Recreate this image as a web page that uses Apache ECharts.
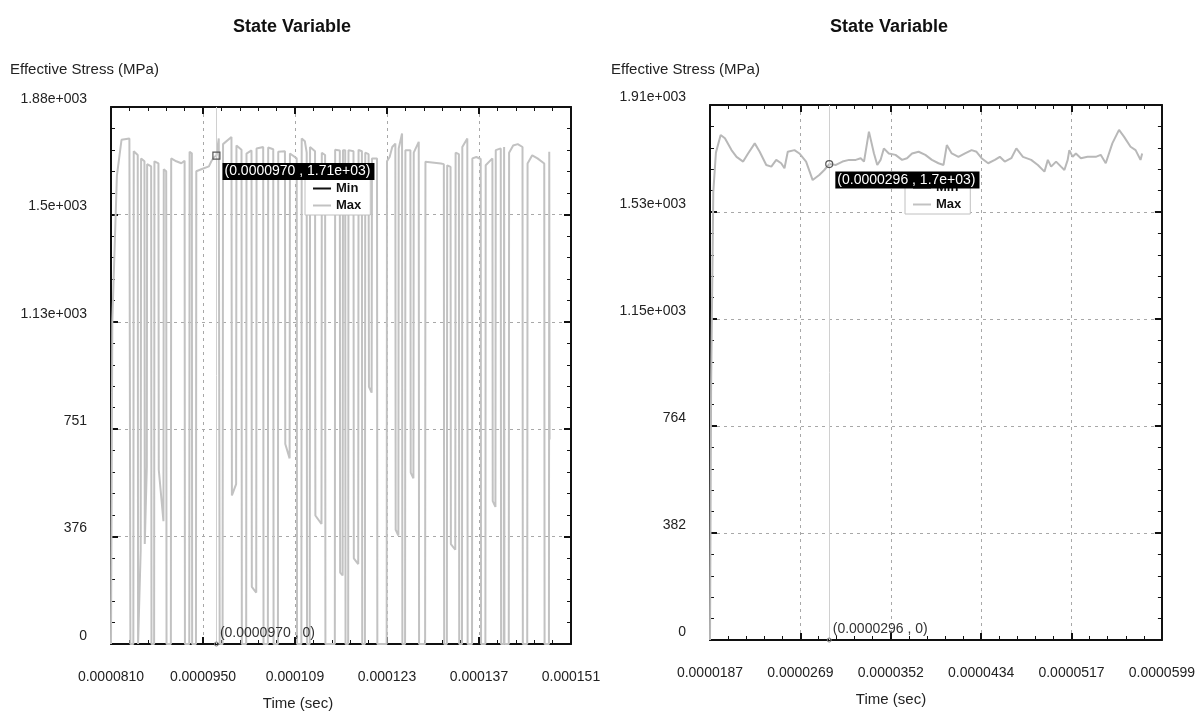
<!DOCTYPE html>
<html>
<head>
<meta charset="utf-8">
<script src="https://cdn.jsdelivr.net/npm/echarts@6/dist/echarts.min.js"></script>
<style>
html,body{margin:0;padding:0;background:#fff;}
#chart{width:1198px;height:713px;}
</style>
</head>
<body>
<div id="chart"></div>
<script>
// ---- Data (time in microseconds, stress in MPa) ----
const leftXLabels = ['0.0000810','0.0000950','0.000109','0.000123','0.000137','0.000151'];
const leftYLabels = ['0','376','751','1.13e+003','1.5e+003','1.88e+003'];
const rightXLabels = ['0.0000187','0.0000269','0.0000352','0.0000434','0.0000517','0.0000599'];
const rightYLabels = ['0','382','764','1.15e+003','1.53e+003','1.91e+003'];

const leftMax = [
[81.00,0],[81.20,1130],[81.90,1640],[82.60,1765],[83.80,1770],[83.95,0],
[84.40,0],[84.46,1725],[85.07,1712],[85.12,0],[85.52,330],[85.58,1700],[86.09,1690],[86.14,350],
[86.45,620],[86.50,1680],[87.11,1672],[87.16,0],[87.56,0],[87.61,1690],[88.22,1683],[88.27,610],
[88.98,430],[89.03,1662],[89.40,1655],[89.45,0],[90.11,0],[90.16,1700],[90.93,1690],[91.70,1683],
[92.20,1692],[92.25,0],[92.91,0],[92.96,1723],[93.30,1718],[93.35,0],[93.93,0],[93.98,1655],
[94.75,1662],[95.90,1672],[96.27,1690],[96.70,1705],[97.04,1710],[97.40,1770],[97.54,0],
[97.98,0],[98.05,1750],[99.33,1775],[99.40,520],[100.04,560],[100.09,1745],[100.86,1730],[100.91,0],
[101.57,0],[101.62,1717],[102.38,1728],[102.43,200],[103.10,180],[103.15,1735],[104.16,1740],[104.21,0],
[104.87,0],[104.92,1738],[105.69,1732],[105.74,0],[106.40,0],[106.45,1723],[107.47,1725],[107.52,700],
[108.18,650],[108.23,1717],[109.26,1700],[109.31,0],[109.97,0],[110.02,1770],[110.50,1760],[110.78,1720],
[110.83,0],[111.24,0],[111.29,1740],[112.05,1725],[112.10,450],[113.03,420],[113.08,1720],[113.58,1712],
[113.63,0],[115.06,0],[115.11,1730],[115.82,1728],[115.87,250],[116.25,240],[116.30,1729],[116.64,1729],
[116.69,0],[117.09,0],[117.14,1729],[117.90,1725],[117.95,300],[118.62,280],[118.67,1730],[119.18,1725],
[119.23,0],[119.64,0],[119.69,1720],[120.20,1715],[120.25,900],[120.66,880],[120.71,1700],[121.48,1700],
[121.53,0],[122.95,0],[123.00,1690],[123.40,1705],[123.80,1740],[124.27,1752],[124.32,400],[124.73,380],
[124.78,1735],[125.29,1787],[125.34,0],[125.75,0],[125.80,1729],[126.56,1729],[126.61,600],[127.02,580],
[127.07,1720],[127.83,1758],[127.88,0],[128.80,0],[128.85,1688],[131.20,1682],[131.65,1680],[131.70,0],
[132.11,0],[132.16,1676],[132.67,1670],[132.72,350],[133.39,330],[133.44,1720],[133.94,1715],[133.99,0],
[134.41,0],[134.46,1740],[135.22,1770],[135.27,0],[135.94,0],[135.99,1700],[136.60,1705],[137.26,1698],
[137.31,0],[137.97,0],[138.02,1676],[139.04,1700],[139.09,500],[139.50,480],[139.55,1729],[140.31,1735],
[140.36,0],[140.77,0],[140.82,1740],[140.87,0],[141.53,0],[141.58,1720],[142.20,1745],[142.90,1750],
[143.62,1740],[143.67,0],[144.34,0],[144.39,1682],[145.10,1711],[145.90,1700],[146.93,1682],[146.98,0],
[147.64,0],[147.69,1723],[147.74,716]
];
const leftMin = [[81.00,0],[97.04,0],[147.74,0]];

const rightMax = [
[18.70,0],[18.80,900],[19.00,1600],[19.24,1740],[19.67,1803],[20.06,1791],[20.66,1749],[21.12,1725],
[21.72,1708],[22.17,1737],[22.78,1773],[23.23,1743],[23.83,1696],[24.29,1690],[24.74,1714],[25.19,1702],
[25.49,1684],[25.79,1743],[26.40,1749],[26.85,1737],[27.46,1708],[28.06,1642],[28.66,1660],[29.12,1678],
[29.57,1699],[30.18,1696],[30.78,1708],[31.38,1714],[31.99,1714],[32.44,1720],[32.74,1708],[33.19,1815],
[33.65,1737],[33.95,1696],[34.25,1714],[34.55,1755],[35.00,1737],[35.61,1732],[36.21,1714],[36.66,1720],
[37.12,1737],[37.72,1743],[38.33,1732],[38.93,1714],[39.53,1702],[39.99,1696],[40.29,1767],[40.74,1737],
[41.35,1725],[41.95,1737],[42.55,1749],[43.00,1743],[43.46,1720],[44.06,1702],[44.67,1714],[45.12,1725],
[45.57,1708],[46.17,1720],[46.63,1755],[47.23,1725],[47.98,1714],[48.59,1696],[49.19,1672],[49.50,1714],
[49.80,1690],[50.25,1708],[50.70,1690],[51.01,1678],[51.31,1714],[51.46,1749],[51.76,1725],[52.06,1737],
[52.51,1720],[53.12,1725],[53.87,1725],[54.32,1732],[54.78,1702],[55.38,1773],[55.99,1821],[56.44,1797],
[57.04,1761],[57.50,1749],[57.95,1714],[58.10,1737]
];
const rightMin = [[18.70,0],[29.57,0],[58.10,0]];

const leftCursor = [97.04, 1710];
const leftCursorText = ['(0.0000970 , 1.71e+03)', '(0.0000970 , 0)'];
const rightCursor = [29.57, 1699];
const rightCursorText = ['(0.0000296 , 1.7e+03)', '(0.0000296 , 0)'];

// ---- Styling / layout ----
const FONT = '"Liberation Sans", Arial, sans-serif';
const frameColor = '#111';

function xAxes(grid, min, max, interval, labels) {
  const common = {
    type: 'value', gridIndex: grid, min: min, max: max, interval: interval,
    axisLine: { show: true, onZero: false, lineStyle: { color: frameColor, width: 2 } },
    axisTick: { show: true, inside: true, length: 7, lineStyle: { color: frameColor, width: 2 } },
    minorTick: { show: true, splitNumber: 5, length: 4, lineStyle: { color: frameColor, width: 1 } },
    minorSplitLine: { show: false }
  };
  return [
    Object.assign({}, common, {
      position: 'bottom',
      axisLabel: {
        show: true, margin: 26, color: '#222', fontSize: 14, fontFamily: FONT,
        showMinLabel: true, showMaxLabel: true,
        formatter: v => labels[Math.round((v - min) / interval)]
      },
      splitLine: { show: true, lineStyle: { color: '#a8a8a8', type: [3, 4], width: 1 } }
    }),
    Object.assign({}, common, {
      position: 'top',
      axisLabel: { show: false },
      splitLine: { show: false }
    })
  ];
}

function yAxes(grid, min, max, interval, labels) {
  const common = {
    type: 'value', gridIndex: grid, min: min, max: max, interval: interval,
    axisLine: { show: true, onZero: false, lineStyle: { color: frameColor, width: 2 } },
    axisTick: { show: true, inside: true, length: 7, lineStyle: { color: frameColor, width: 2 } },
    minorTick: { show: true, splitNumber: 5, length: 4, lineStyle: { color: frameColor, width: 1 } },
    minorSplitLine: { show: false }
  };
  return [
    Object.assign({}, common, {
      position: 'left',
      axisLabel: {
        show: true, margin: 24, color: '#222', fontSize: 14, fontFamily: FONT,
        verticalAlign: 'bottom', padding: [0, 0, 1, 0],
        showMinLabel: true, showMaxLabel: true,
        formatter: v => labels[Math.round((v - min) / interval)]
      },
      splitLine: { show: true, lineStyle: { color: '#a8a8a8', type: [3, 4], width: 1 } }
    }),
    Object.assign({}, common, {
      position: 'right',
      axisLabel: { show: false },
      splitLine: { show: false }
    })
  ];
}

function cursorSeries(xi, yi, point, texts, symbol) {
  return {
    name: 'cursor', type: 'scatter', xAxisIndex: xi, yAxisIndex: yi, z: 6,
    silent: true, animation: false,
    itemStyle: { opacity: 1 },
    data: [
      {
        value: point, symbol: symbol, symbolSize: 7,
        itemStyle: { color: 'rgba(255,255,255,0)', borderColor: '#555', borderWidth: 1.2, opacity: 1 },
        label: {
          show: true, position: 'right', distance: 2, offset: [0, 16], opacity: 1,
          formatter: texts[0], backgroundColor: '#000000', color: '#ffffff',
          fontSize: 14, fontFamily: FONT, padding: [2, 4, 1, 2]
        }
      },
      {
        value: [point[0], 0], symbol: 'circle', symbolSize: 4,
        itemStyle: { color: 'rgba(255,255,255,0)', borderColor: '#777', borderWidth: 1, opacity: 1 },
        label: {
          show: true, position: 'right', distance: 1, offset: [0, -11], opacity: 1,
          formatter: texts[1], color: '#333', fontSize: 14, fontFamily: FONT
        }
      }
    ],
    markLine: {
      silent: true, symbol: ['none', 'none'], animation: false,
      label: { show: false },
      lineStyle: { color: '#d0d0d0', width: 1, type: 'solid', opacity: 1 },
      data: [{ xAxis: point[0] }]
    }
  };
}

function legendAt(left, top) {
  return {
    data: ['Min', 'Max'], orient: 'vertical', left: left, top: top,
    icon: 'rect', itemWidth: 18, itemHeight: 2, itemGap: 4,
    backgroundColor: '#fff', borderColor: '#c0c0c0', borderWidth: 1,
    padding: [3, 9, 3, 8], selectedMode: false, z: 4,
    textStyle: { fontWeight: 'bold', fontSize: 13, color: '#111', fontFamily: FONT }
  };
}

const chart = echarts.init(document.getElementById('chart'), null, { renderer: 'canvas' });

const option = {
  animation: false,
  backgroundColor: '#fff',
  grid: [
    { left: 111, top: 107, width: 460, height: 537 },
    { left: 710, top: 105, width: 456, height: 535 }
  ],
  xAxis: [].concat(
    xAxes(0, 81, 151, 14, leftXLabels),
    xAxes(1, 18.7, 59.9, 8.24, rightXLabels)
  ),
  yAxis: [].concat(
    yAxes(0, 0, 1880, 376, leftYLabels),
    yAxes(1, 0, 1910, 382, rightYLabels)
  ),
  legend: [legendAt(305, 179), legendAt(905, 178)],
  series: [
    { name: 'Min', type: 'line', xAxisIndex: 0, yAxisIndex: 0, data: leftMin,
      symbol: 'none', showSymbol: false, lineStyle: { color: '#111', width: 1 }, itemStyle: { color: '#111' } },
    { name: 'Max', type: 'line', xAxisIndex: 0, yAxisIndex: 0, data: leftMax,
      symbol: 'none', showSymbol: false, lineStyle: { color: '#c2c2c2', width: 2 }, itemStyle: { color: '#c2c2c2' } },
    { name: 'Min', type: 'line', xAxisIndex: 2, yAxisIndex: 2, data: rightMin,
      symbol: 'none', showSymbol: false, lineStyle: { color: '#111', width: 1 }, itemStyle: { color: '#111' } },
    { name: 'Max', type: 'line', xAxisIndex: 2, yAxisIndex: 2, data: rightMax,
      symbol: 'none', showSymbol: false, lineStyle: { color: '#b8b8b8', width: 2 }, itemStyle: { color: '#b8b8b8' } },
    cursorSeries(0, 0, leftCursor, leftCursorText, 'rect'),
    cursorSeries(2, 2, rightCursor, rightCursorText, 'circle')
  ],
  graphic: [
    { type: 'text', x: 292, y: 27, style: { text: 'State Variable', font: 'bold 18px ' + FONT, fill: '#111', align: 'center', verticalAlign: 'middle' } },
    { type: 'text', x: 889, y: 27, style: { text: 'State Variable', font: 'bold 18px ' + FONT, fill: '#111', align: 'center', verticalAlign: 'middle' } },
    { type: 'text', x: 10, y: 70, style: { text: 'Effective Stress (MPa)', font: '15px ' + FONT, fill: '#222', align: 'left', verticalAlign: 'middle' } },
    { type: 'text', x: 611, y: 70, style: { text: 'Effective Stress (MPa)', font: '15px ' + FONT, fill: '#222', align: 'left', verticalAlign: 'middle' } },
    { type: 'text', x: 298, y: 704, style: { text: 'Time (sec)', font: '15px ' + FONT, fill: '#222', align: 'center', verticalAlign: 'middle' } },
    { type: 'text', x: 891, y: 700, style: { text: 'Time (sec)', font: '15px ' + FONT, fill: '#222', align: 'center', verticalAlign: 'middle' } }
  ]
};

chart.setOption(option);
</script>
</body>
</html>
